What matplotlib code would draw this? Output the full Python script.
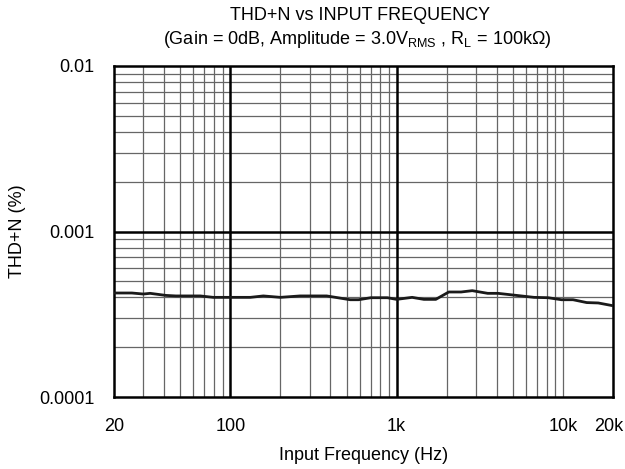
import matplotlib.pyplot as plt
import matplotlib.transforms as mtransforms
from matplotlib.ticker import FixedLocator, NullFormatter, NullLocator

plt.rcParams['font.family'] = ['Liberation Sans', 'DejaVu Sans']
plt.rcParams['mathtext.fontset'] = 'custom'
plt.rcParams['mathtext.rm'] = 'Liberation Sans'

# THD+N curve
freq_hz = [20, 25.6, 30, 33, 41, 47, 66, 79, 100, 132, 158, 200, 263, 380,
           526, 590, 700, 880, 1000, 1240, 1460, 1720, 2060, 2440, 2850,
           3530, 4070, 6700, 8150, 9800, 11500, 13900, 16300, 20000]
thdn_pct = [0.000425, 0.000425, 0.000419, 0.000423, 0.000411, 0.000408,
            0.000408, 0.0004, 0.0004, 0.0004, 0.000408, 0.0004, 0.000408,
            0.000408, 0.000387, 0.000387, 0.000398, 0.000398, 0.000389,
            0.0004, 0.000389, 0.000389, 0.000431, 0.000431, 0.000439,
            0.000423, 0.000423, 0.0004, 0.000398, 0.000387, 0.000387,
            0.000372, 0.00037, 0.000356]

x_ticks = [20, 100, 1000, 10000, 20000]
x_labels = ['20', '100', '1k', '10k', '20k']
y_ticks = [0.0001, 0.001, 0.01]
y_labels = ['0.0001', '0.001', '0.01']

FS = 13

fig = plt.figure(figsize=(6.25, 4.69), dpi=100)
ax = fig.add_axes([114 / 625, 1 - 397 / 469, 499 / 625, 331 / 469])

ax.set_xscale('log')
ax.set_yscale('log')
ax.set_xlim(20, 20000)
ax.set_ylim(0.0001, 0.01)

# grid lines
minor_x = [m * 10 ** e for e in range(1, 5) for m in range(1, 10)]
minor_x = [v for v in minor_x if 20 < v < 20000 and v not in (100, 1000)]
for v in minor_x:
    ax.axvline(v, color='#666666', lw=0.9, zorder=1)
for v in (100, 1000):
    ax.axvline(v, color='black', lw=1.8, zorder=2)
minor_y = [m * 10 ** e for e in (-4, -3) for m in range(2, 10)]
for v in minor_y:
    ax.axhline(v, color='#666666', lw=0.9, zorder=1)
ax.axhline(0.001, color='black', lw=1.8, zorder=2)

ax.plot(freq_hz, thdn_pct, color='#1a1a1a', lw=2.0, zorder=3)

ax.xaxis.set_major_locator(FixedLocator(x_ticks))
ax.set_xticklabels(x_labels)
ax.xaxis.set_minor_locator(NullLocator())
ax.xaxis.set_minor_formatter(NullFormatter())
ax.yaxis.set_major_locator(FixedLocator(y_ticks))
ax.set_yticklabels(y_labels)
ax.yaxis.set_minor_locator(NullLocator())
ax.yaxis.set_minor_formatter(NullFormatter())
ax.tick_params(length=0, labelsize=FS)
ax.tick_params(axis='y', pad=14)
ax.tick_params(axis='x', pad=15)

# nudge the 20k label left so it stays inside the figure
last = ax.get_xticklabels()[-1]
last.set_transform(last.get_transform() +
                   mtransforms.ScaledTranslation(-4 / 100, 0, fig.dpi_scale_trans))

for s in ax.spines.values():
    s.set_linewidth(1.8)
    s.set_color('black')

ax.set_xlabel('Input Frequency (Hz)', fontsize=FS, va='center')
ax.xaxis.set_label_coords(0.5, (397 - 455) / 331)
ax.set_ylabel('THD+N (%)', fontsize=FS, va='center')
ax.yaxis.set_label_coords((18 - 114) / 499, 0.5)

fig.text(360 / 625, 1 - 15 / 469, 'THD+N vs INPUT FREQUENCY',
         ha='center', va='center', fontsize=FS)
fig.text(357 / 625, 1 - 40 / 469,
         r'(Gain = 0dB, Amplitude = 3.0V$_{\mathregular{RMS}}$ , R$_{\mathregular{L}}$ = 100k$\Omega$)',
         ha='center', va='center', fontsize=FS)

fig.savefig('out.png', dpi=100)
